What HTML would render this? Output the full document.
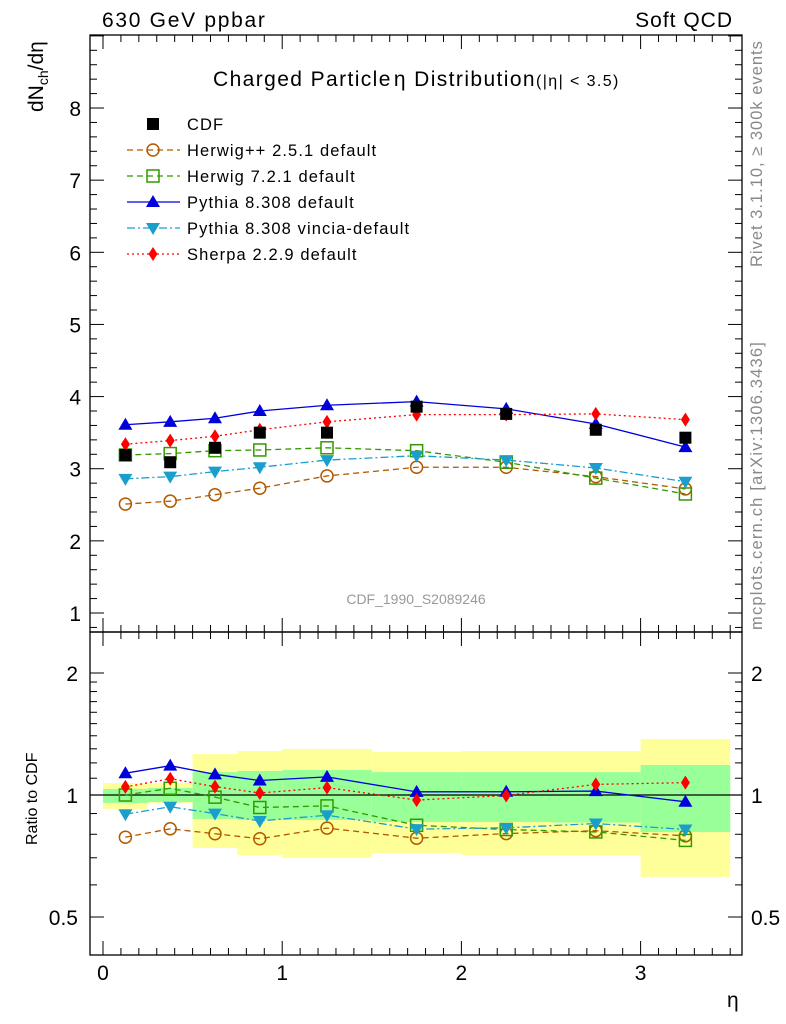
<!DOCTYPE html>
<html><head><meta charset="utf-8"><style>
body{margin:0;background:#fff}
svg{display:block;font-family:"Liberation Sans",sans-serif}
</style></head><body>
<svg id="c" width="786" height="1024" viewBox="0 0 786 1024"></svg>
<script>
const xs=[0.125,0.375,0.625,0.875,1.25,1.75,2.25,2.75,3.25];
const binLo=[0,0.25,0.5,0.75,1,1.5,2,2.5,3];
const binHi=[0.25,0.5,0.75,1,1.5,2,2.5,3,3.5];
const cdf=[3.19,3.09,3.29,3.50,3.50,3.86,3.76,3.54,3.43];
const herwigpp=[2.51,2.55,2.64,2.73,2.90,3.02,3.02,2.89,2.72];
const herwig7=[3.19,3.21,3.25,3.26,3.29,3.25,3.09,2.87,2.65];
const pythia=[3.61,3.65,3.70,3.80,3.88,3.93,3.83,3.62,3.30];
const vincia=[2.86,2.89,2.96,3.02,3.12,3.18,3.12,3.01,2.82];
const sherpa=[3.34,3.39,3.45,3.54,3.65,3.75,3.75,3.76,3.68];
const totHi=[1.070,1.070,1.262,1.284,1.299,1.277,1.284,1.284,1.375];
const totLo=[0.924,0.956,0.740,0.711,0.699,0.719,0.711,0.711,0.628];
const statHi=[1.035,1.041,1.139,1.146,1.153,1.139,1.139,1.139,1.186];
const statLo=[0.956,0.961,0.873,0.868,0.868,0.858,0.858,0.855,0.810];
const yTicks=[1,2,3,4,5,6,7,8];
const xTicks=[0,1,2,3];
const rTicks=[0.5,1,2];

const S='http://www.w3.org/2000/svg';
const svg=document.getElementById('c');
function el(t,a,p){const e=document.createElementNS(S,t);for(const k in a)e.setAttribute(k,a[k]);(p||svg).appendChild(e);return e;}
const L=90,R=742,T=35,M=632,B=955;
const X=v=>103+(v)*179.2;
const Y=v=>613-(v-1)*72.14;
const RY=v=>795-Math.log2(v)*122;

for(let i=0;i<xs.length;i++){
 let r=el('rect',{x:X(binLo[i]),y:RY(totHi[i]),width:X(binHi[i])-X(binLo[i]),height:RY(totLo[i])-RY(totHi[i]),fill:'#ffff99'});
 
 let g=el('rect',{x:X(binLo[i]),y:RY(statHi[i]),width:X(binHi[i])-X(binLo[i]),height:RY(statLo[i])-RY(statHi[i]),fill:'#99ff99'});
 
}
el('line',{x1:L,x2:R,y1:RY(1),y2:RY(1),stroke:'#000','stroke-width':1.3});

el('rect',{x:L,y:T,width:R-L,height:M-T,fill:'none',stroke:'#000','stroke-width':1.3});
el('rect',{x:L,y:M,width:R-L,height:B-M,fill:'none',stroke:'#000','stroke-width':1.3});

for(let v=0.8;v<=9.01;v+=0.2){const y=Y(v);if(y<T||y>M)continue;const maj=Math.abs(v-Math.round(v))<0.01;const l=maj?14:7;
 el('line',{x1:L,x2:L+l,y1:y,y2:y,stroke:'#000'});el('line',{x1:R,x2:R-l,y1:y,y2:y,stroke:'#000'});}
yTicks.forEach(v=>{const t=el('text',{x:81,y:Y(v)+8,'text-anchor':'end','font-size':21});t.textContent=v;});
[0.5,0.6,0.7,0.8,0.9,1,1.1,1.2,1.3,1.4,1.5,1.6,1.7,1.8,1.9,2].forEach(v=>{const y=RY(v);const maj=rTicks.includes(v);const l=maj?14:7;
 el('line',{x1:L,x2:L+l,y1:y,y2:y,stroke:'#000'});el('line',{x1:R,x2:R-l,y1:y,y2:y,stroke:'#000'});});
rTicks.forEach(v=>{const t=el('text',{x:78,y:RY(v)+8,'text-anchor':'end','font-size':21});t.textContent=v;
 const t2=el('text',{x:751,y:RY(v)+8,'font-size':21});t2.textContent=v;});
for(let v=-0.0;v<=3.51;v+=0.1){const x=X(v);const maj=Math.abs(v-Math.round(v))<0.01;const l=maj?14:7;
 [[M,-1],[B,-1],[T,1],[M,1]].forEach(([y0,d])=>el('line',{x1:x,x2:x,y1:y0,y2:y0+d*l,stroke:'#000'}));}
xTicks.forEach(v=>{const t=el('text',{x:X(v),y:980,'text-anchor':'middle','font-size':21});t.textContent=v;});

function marker(type,x,y,c,g){
 if(type==='sq')el('rect',{x:x-6,y:y-6,width:12,height:12,fill:'#000'},g);
 if(type==='osq')el('rect',{x:x-6,y:y-6,width:12,height:12,fill:'#fff','fill-opacity':0,stroke:c,'stroke-width':1.5},g);
 if(type==='oc')el('circle',{cx:x,cy:y,r:6,fill:'none',stroke:c,'stroke-width':1.5},g);
 if(type==='tu')el('polygon',{points:`${x-7},${y+5} ${x+7},${y+5} ${x},${y-7}`,fill:c},g);
 if(type==='td')el('polygon',{points:`${x-7},${y-5} ${x+7},${y-5} ${x},${y+7}`,fill:c},g);
 if(type==='di')el('polygon',{points:`${x},${y-7} ${x+4.5},${y} ${x},${y+7} ${x-4.5},${y}`,fill:c},g);
}
const series=[
 {n:'herwigpp',d:herwigpp,c:'#b35900',m:'oc',dash:'6,4',lab:'Herwig++ 2.5.1 default'},
 {n:'herwig7',d:herwig7,c:'#339900',m:'osq',dash:'6,4',lab:'Herwig 7.2.1 default'},
 {n:'pythia',d:pythia,c:'#0000dd',m:'tu',dash:'',lab:'Pythia 8.308 default'},
 {n:'vincia',d:vincia,c:'#1a9fcc',m:'td',dash:'8,3,2,3',lab:'Pythia 8.308 vincia-default'},
 {n:'sherpa',d:sherpa,c:'#ff0000',m:'di',dash:'2,3',lab:'Sherpa 2.2.9 default'}];
series.forEach(s=>{
 const g=el('g',{});
 el('polyline',{points:xs.map((x,i)=>X(x)+','+Y(s.d[i])).join(' '),fill:'none',stroke:s.c,'stroke-width':1.3,'stroke-dasharray':s.dash},g);
 xs.forEach((x,i)=>marker(s.m,X(x),Y(s.d[i]),s.c,g));
 const g2=el('g',{});
 el('polyline',{points:xs.map((x,i)=>X(x)+','+RY(s.d[i]/cdf[i])).join(' '),fill:'none',stroke:s.c,'stroke-width':1.3,'stroke-dasharray':s.dash},g2);
 xs.forEach((x,i)=>marker(s.m,X(x),RY(s.d[i]/cdf[i]),s.c,g2));
});
const gc=el('g',{});
xs.forEach((x,i)=>marker('sq',X(x),Y(cdf[i]),'#000',gc));

const lg=el('g',{});
const ents=[{m:'sq',c:'#000',lab:'CDF',dash:null}].concat(series);
ents.forEach((s,i)=>{const y=124+i*26;
 const e=el('g',{},lg);
 if(s.dash!==null)el('line',{x1:127,x2:180,y1:y,y2:y,stroke:s.c,'stroke-width':1.3,'stroke-dasharray':s.dash},e);
 marker(s.m,153,y,s.c,e);
 const t=el('text',{x:187,y:y+6,'font-size':16.5,'letter-spacing':1.1},e);t.textContent=s.lab;});

function txt(x,y,s,a,name,extra){const t=el('text',Object.assign({x:x,y:y,'font-size':s},a||{}));t.innerHTML=extra;return t;}
txt(102,27,21,{'letter-spacing':1.7},'top-left-label','630 GeV ppbar');
txt(733,27,21,{'text-anchor':'end','letter-spacing':1},'top-right-label','Soft QCD');
txt(213,86,21,{'letter-spacing':1.4},'plot-title','Charged Particle<tspan dx="2">η</tspan> Distribution<tspan font-size="16" dy="0">(|η| &lt; 3.5)</tspan>');
txt(416,604,14,{'text-anchor':'middle',fill:'#999'},'analysis-id','CDF_1990_S2089246');
txt(0,0,21,{transform:'translate(43,112) rotate(-90)'},'y-axis-title','dN<tspan font-size="14" dy="5">ch</tspan><tspan dy="-5">/dη</tspan>');
txt(0,0,16,{transform:'translate(37,845) rotate(-90)'},'ratio-axis-title','Ratio to CDF');
txt(727,1007,21,{},'x-axis-title','η');
txt(0,0,16.5,{transform:'translate(762,267) rotate(-90)',fill:'#888','letter-spacing':1},'rivet-version','Rivet 3.1.10, ≥ 300k events');
txt(0,0,16.5,{transform:'translate(762,630) rotate(-90)',fill:'#888','letter-spacing':1.2},'mcplots-credit','mcplots.cern.ch [arXiv:1306.3436]');
</script>
</body></html>
